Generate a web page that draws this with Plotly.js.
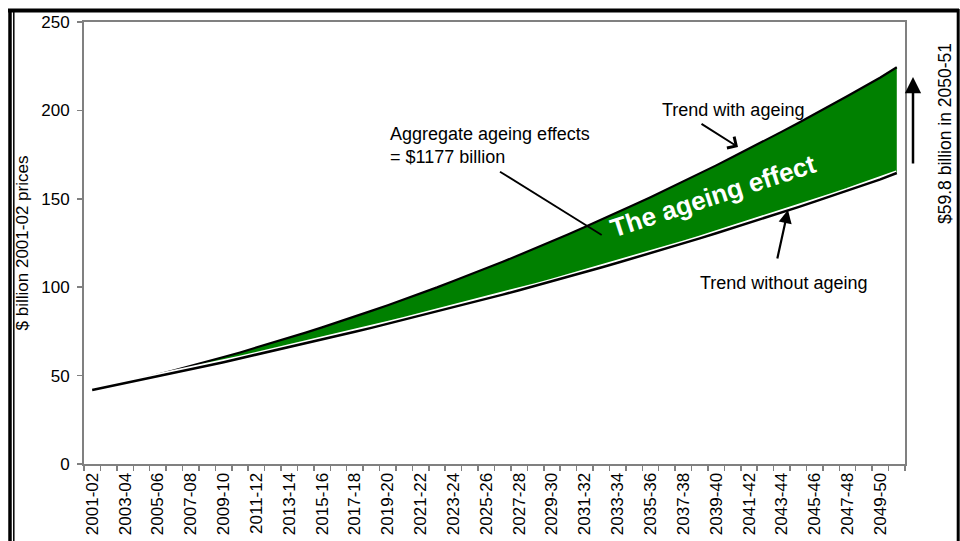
<!DOCTYPE html>
<html>
<head>
<meta charset="utf-8">
<script src="https://cdn.plot.ly/plotly-3.0.1.min.js"></script>
<style>html,body{margin:0;padding:0;background:#fff;}#chart{width:960px;height:541px;}</style>
</head>
<body>
<div id="chart"></div>
<script>
// Financial years (categories)
var years = ["2001-02","2002-03","2003-04","2004-05","2005-06","2006-07","2007-08","2008-09","2009-10","2010-11",
  "2011-12","2012-13","2013-14","2014-15","2015-16","2016-17","2017-18","2018-19","2019-20","2020-21",
  "2021-22","2022-23","2023-24","2024-25","2025-26","2026-27","2027-28","2028-29","2029-30","2030-31",
  "2031-32","2032-33","2033-34","2034-35","2035-36","2036-37","2037-38","2038-39","2039-40","2040-41",
  "2041-42","2042-43","2043-44","2044-45","2045-46","2046-47","2047-48","2048-49","2049-50","2050-51"];

// $ billion, 2001-02 prices
var trendWithAgeing = [41.9,44.0,46.1,48.4,50.6,53.0,55.4,57.9,60.5,63.1,
  65.8,68.6,71.4,74.3,77.3,80.3,83.4,86.6,89.8,93.1,
  96.5,99.9,103.5,107.0,110.7,114.4,118.2,122.0,126.0,129.9,
  134.0,138.1,142.3,146.6,150.9,155.3,159.8,164.3,168.9,173.6,
  178.3,183.1,188.0,192.9,197.9,203.0,208.1,213.4,218.6,224.4];

var trendWithoutAgeing = [41.9,43.8,45.7,47.6,49.6,51.6,53.6,55.6,57.6,59.7,
  61.8,63.9,66.0,68.2,70.4,72.6,74.8,77.0,79.3,81.6,
  83.9,86.2,88.6,91.0,93.4,95.8,98.3,100.8,103.3,105.9,
  108.5,111.1,113.8,116.5,119.2,122.0,124.8,127.6,130.5,133.4,
  136.3,139.3,142.3,145.3,148.4,151.5,154.6,157.8,161.0,164.6];

// Tick labels: every second year shown
var tickLabels = ["2001-02","","2003-04","","2005-06","","2007-08","","2009-10","",
  "2011-12","","2013-14","","2015-16","","2017-18","","2019-20","",
  "2021-22","","2023-24","","2025-26","","2027-28","","2029-30","",
  "2031-32","","2033-34","","2035-36","","2037-38","","2039-40","",
  "2041-42","","2043-44","","2045-46","","2047-48","","2049-50",""];

var yTicks = [0, 50, 100, 150, 200, 250];

var FONT = "Arial, 'Liberation Sans', sans-serif";
var GREEN = "#008000";
var GRAY = "#808080";

var traces = [
  {x: years, y: trendWithoutAgeing, mode: "lines", line: {color: "rgba(0,0,0,0)", width: 0}, hoverinfo: "skip", showlegend: false},
  {x: years, y: trendWithAgeing, name: "Trend with ageing", mode: "lines", fill: "tonexty", fillcolor: GREEN,
   line: {color: "#000", width: 2.2}, showlegend: false},
  {x: years, y: trendWithoutAgeing, mode: "lines", line: {color: "#fff", width: 5.5}, hoverinfo: "skip", showlegend: false},
  {x: years, y: trendWithoutAgeing, name: "Trend without ageing", mode: "lines", line: {color: "#000", width: 2.5}, showlegend: false}
];

function px2x(p) { return (p - 84) / 821; }
function px2y(p) { return (464 - p) / 442; }

var layout = {
  width: 960, height: 541,
  margin: {l: 84, r: 55, t: 22, b: 77, pad: 0},
  paper_bgcolor: "#fff", plot_bgcolor: "#fff",
  font: {family: FONT, size: 17, color: "#000"},
  xaxis: {
    type: "category", range: [-0.5, 49.5], fixedrange: true,
    tickmode: "array", tickvals: years, ticktext: tickLabels, tickson: "boundaries",
    ticks: "outside", ticklen: 5, tickwidth: 1.5, tickcolor: GRAY,
    tickangle: -90, tickfont: {family: FONT, size: 17, color: "#000"},
    showline: true, linecolor: GRAY, linewidth: 2, mirror: true,
    showgrid: false, zeroline: false, automargin: false
  },
  yaxis: {
    range: [0, 250], tickvals: yTicks, fixedrange: true,
    ticks: "outside", ticklen: 5, tickwidth: 1.5, tickcolor: GRAY, ticklabelstandoff: 4,
    tickfont: {family: FONT, size: 17, color: "#000"},
    showline: true, linecolor: GRAY, linewidth: 2, mirror: true,
    showgrid: false, zeroline: false, automargin: false,
    title: {text: "$ billion 2001-02 prices", font: {family: FONT, size: 17, color: "#000"}, standoff: 8}
  },
  shapes: [
    {type: "line", xref: "paper", yref: "paper", x0: px2x(8), x1: px2x(959), y0: px2y(10.5), y1: px2y(10.5), line: {color: "#000", width: 4}},
    {type: "line", xref: "paper", yref: "paper", x0: px2x(10), x1: px2x(10), y0: px2y(9), y1: px2y(545), line: {color: "#000", width: 3.5}},
    {type: "line", xref: "paper", yref: "paper", x0: px2x(13.8), x1: px2x(13.8), y0: px2y(12), y1: px2y(545), line: {color: "#000", width: 1.5}},
    {type: "line", xref: "paper", yref: "paper", x0: px2x(958.2), x1: px2x(958.2), y0: px2y(9), y1: px2y(545), line: {color: "#000", width: 3}},
    {type: "line", xref: "paper", yref: "paper", x0: px2x(500), x1: px2x(601.7), y0: px2y(171.7), y1: px2y(235), line: {color: "#000", width: 1.8}}
  ],
  annotations: [
    {xref: "paper", yref: "paper", x: px2x(733), y: px2y(110), text: "Trend with ageing", showarrow: false,
     font: {family: FONT, size: 18, color: "#000"}, xanchor: "center", yanchor: "middle"},
    {xref: "paper", yref: "paper", x: px2x(738), y: px2y(147), text: "", showarrow: true, ax: -38, ay: -24,
     arrowhead: 4, arrowsize: 1.3, arrowwidth: 2, arrowcolor: "#000"},
    {xref: "paper", yref: "paper", x: px2x(783), y: px2y(283), text: "Trend without ageing", showarrow: false,
     font: {family: FONT, size: 18, color: "#000"}, xanchor: "center", yanchor: "middle"},
    {xref: "paper", yref: "paper", x: px2x(788), y: px2y(210), text: "", showarrow: true, ax: -11, ay: 50,
     arrowhead: 2, arrowsize: 1.2, arrowwidth: 2.2, arrowcolor: "#000"},
    {xref: "paper", yref: "paper", x: px2x(388), y: px2y(145), text: "Aggregate ageing effects<br>= $1177 billion", showarrow: false,
     font: {family: FONT, size: 18, color: "#000"}, xanchor: "left", yanchor: "middle", align: "left"},
    {xref: "paper", yref: "paper", x: px2x(713), y: px2y(196), text: "<b>The ageing effect</b>", showarrow: false, textangle: -18,
     font: {family: FONT, size: 26, color: "#fff"}, xanchor: "center", yanchor: "middle"},
    {xref: "paper", yref: "paper", x: px2x(945), y: px2y(134), text: "$59.8 billion in 2050-51", showarrow: false, textangle: -90,
     font: {family: FONT, size: 17.5, color: "#000"}, xanchor: "center", yanchor: "middle"},
    {xref: "paper", yref: "paper", x: px2x(913), y: px2y(77), text: "", showarrow: true, ax: 0, ay: 88,
     arrowhead: 2, arrowsize: 1.3, arrowwidth: 2.5, arrowcolor: "#000"}
  ]
};

Plotly.newPlot("chart", traces, layout, {displayModeBar: false, staticPlot: true});
</script>
</body>
</html>
